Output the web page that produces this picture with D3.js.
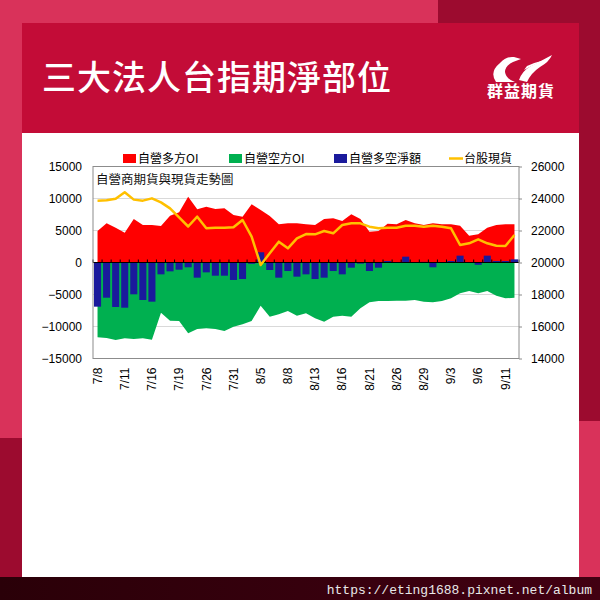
<!DOCTYPE html>
<html><head><meta charset="utf-8">
<script src="https://cdn.jsdelivr.net/npm/d3@7/dist/d3.min.js"></script>
<style>html,body{margin:0;padding:0;background:#fff;}svg{display:block;}</style>
</head><body>
<script>
const dates = ["7/8","7/9","7/10","7/11","7/12","7/15","7/16","7/17","7/18","7/19","7/22","7/23","7/26","7/29","7/30","7/31","8/1","8/2","8/5","8/6","8/7","8/8","8/9","8/12","8/13","8/14","8/15","8/16","8/19","8/20","8/21","8/22","8/23","8/26","8/27","8/28","8/29","8/30","9/2","9/3","9/4","9/5","9/6","9/9","9/10","9/11","9/12"];
const longOI = [4920,6120,5440,4660,6800,5860,5860,5700,7310,7840,10290,8330,8720,8360,8460,7420,7160,9090,8200,7270,5960,6120,6120,5960,5860,6800,6900,6480,7530,6800,4820,4920,6070,5960,6640,6120,5860,6120,5960,5960,5750,4190,4400,5440,5860,5960,5960];
const shortOI = [-11690,-11800,-12110,-11850,-11950,-11850,-12060,-7840,-9090,-9140,-11070,-10390,-10290,-10390,-10700,-10030,-9660,-9140,-6740,-8460,-8100,-7580,-8310,-7940,-8720,-9240,-8460,-8310,-8460,-7160,-6220,-6020,-6020,-5960,-5960,-5860,-6120,-6220,-6020,-5600,-4820,-4450,-4820,-4450,-5180,-5600,-5500];
const netOI = [-6900,-5500,-6950,-7060,-4970,-5860,-6120,-1850,-1380,-1120,-750,-2370,-1540,-2060,-2060,-2730,-2580,-200,1600,-1170,-2370,-1330,-2210,-1850,-2580,-2370,-1330,-1850,-810,-180,-1330,-810,230,50,910,80,100,-750,50,230,1070,50,-360,1070,230,230,490];
const taiex = [23865,23885,23990,24385,23930,23865,24010,23760,23385,22823,22250,22865,22135,22170,22170,22200,22656,21615,19844,20573,21302,20885,21510,21780,21760,21970,21823,22344,22448,22448,22240,22135,22170,22170,22302,22302,22240,22302,22240,22135,21094,21198,21448,21198,21052,21031,21719];
const xTickLabels = ["7/8","7/11","7/16","7/19","7/26","7/31","8/5","8/8","8/13","8/16","8/21","8/26","8/29","9/3","9/6","9/11"];
const leftTicks = [-15000,-10000,-5000,0,5000,10000,15000];
const rightTicks = [14000,16000,18000,20000,22000,24000,26000];
const seriesNames = ["自營多方OI","自營空方OI","自營多空淨額","台股現貨"];
const titleText = "三大法人台指期淨部位";
const chartTitle = "自營商期貨與現貨走勢圖";
const brandText = "群益期貨";
const urlText = "https://eting1688.pixnet.net/album";

const W = 600, H = 600;
const svg = d3.select("body").append("svg").attr("width", W).attr("height", H);
const CJK = "'Noto Sans CJK TC','Noto Sans CJK SC',sans-serif";
const NUM = "'Liberation Sans',Arial,sans-serif";

// background frame
svg.append("rect").attr("x",0).attr("y",0).attr("width",W).attr("height",H).attr("fill","#d9325a");
svg.append("rect").attr("x",438).attr("y",0).attr("width",162).attr("height",23).attr("fill","#9c0b2f");
svg.append("rect").attr("x",578).attr("y",0).attr("width",22).attr("height",421).attr("fill","#9c0b2f");
svg.append("rect").attr("x",0).attr("y",438).attr("width",22).attr("height",140).attr("fill","#9c0b2f");
svg.append("rect").attr("x",22).attr("y",23).attr("width",557).attr("height",111).attr("fill","#c30c37");
svg.append("rect").attr("x",22).attr("y",133).attr("width",557).attr("height",445).attr("fill","#ffffff");
const grad = svg.append("defs").append("linearGradient").attr("id","bb").attr("x1","0").attr("x2","1");
grad.append("stop").attr("offset","0").attr("stop-color","#2a0008");
grad.append("stop").attr("offset","1").attr("stop-color","#420012");
svg.append("rect").attr("x",0).attr("y",577).attr("width",W).attr("height",23).attr("fill","url(#bb)");
svg.append("text").attr("x",592).attr("y",594).attr("text-anchor","end")
  .attr("font-family","'Liberation Mono','DejaVu Sans Mono',monospace").attr("font-size",13)
  .attr("fill","#e8e8e8").text(urlText);

// header title
svg.append("text").attr("x",42).attr("y",90).attr("font-family",CJK).attr("font-size",34)
  .attr("font-weight",500).attr("letter-spacing",1).attr("fill","#fff").text(titleText);

// logo
const logo = svg.append("g").attr("fill","#fff");
logo.append("path").attr("d","M500,63 Q506,56 514,57 L521,59 L513,62 Q505,66 505,72 Q506,79 515,82 L496,82 Q489,72 500,63 Z");
logo.append("path").attr("d","M552,55 Q541,61 531,66 Q522,71 519,80 L527,82 Q531,73 540,67 Q549,62 552,55 Z");
logo.append("path").attr("d","M545,60 Q536,62 527,66 L524,70 Q533,65 545,60 Z");
svg.append("text").attr("x",521).attr("y",97).attr("text-anchor","middle").attr("font-family",CJK)
  .attr("font-size",16).attr("font-weight",700).attr("letter-spacing",1).attr("fill","#fff").text(brandText);

// chart
const plot = {left:93, right:519, top:166.5, bottom:358.5};
const x = d3.scaleBand().domain(dates).range([plot.left, plot.right]).padding(0);
const cx = d => x(d) + x.bandwidth()/2;
const yL = d3.scaleLinear().domain([-15000,15000]).range([plot.bottom, plot.top]);
const yR = d3.scaleLinear().domain([14000,26000]).range([plot.bottom, plot.top]);

const g = svg.append("g");
// gridlines
g.selectAll("line.grid").data(leftTicks.filter(v=>v!==0 && Math.abs(v)!==15000)).enter().append("line")
  .attr("x1",plot.left).attr("x2",plot.right).attr("y1",d=>yL(d)).attr("y2",d=>yL(d))
  .attr("stroke","#d9d9d9").attr("stroke-width",1);

// areas
const idx = d3.range(dates.length);
g.append("path").datum(idx).attr("fill","#ff0000")
  .attr("d", d3.area().x(i=>cx(dates[i])).y0(yL(0)).y1(i=>yL(longOI[i])));
g.append("path").datum(idx).attr("fill","#00b050")
  .attr("d", d3.area().x(i=>cx(dates[i])).y0(yL(0)).y1(i=>yL(shortOI[i])));

// bars
const bw = x.bandwidth()*0.78;
g.selectAll("rect.bar").data(idx).enter().append("rect")
  .attr("x", i=>cx(dates[i]) - bw/2).attr("width", bw)
  .attr("y", i=>Math.min(yL(0), yL(netOI[i])))
  .attr("height", i=>Math.abs(yL(netOI[i]) - yL(0)))
  .attr("fill","#1a1a9c");

// zero axis with ticks
g.append("line").attr("x1",plot.left).attr("x2",plot.right).attr("y1",yL(0)).attr("y2",yL(0))
  .attr("stroke","#000").attr("stroke-width",1);
g.selectAll("line.xt").data(d3.range(dates.length+1)).enter().append("line")
  .attr("x1",k=>plot.left + k*x.step()).attr("x2",k=>plot.left + k*x.step())
  .attr("y1",yL(0)-3).attr("y2",yL(0)).attr("stroke","#000").attr("stroke-width",1);

// line
g.append("path").datum(idx).attr("fill","none").attr("stroke","#ffc000").attr("stroke-width",2.5)
  .attr("stroke-linejoin","round")
  .attr("d", d3.line().x(i=>cx(dates[i])).y(i=>yR(taiex[i])));

// border
g.append("rect").attr("x",plot.left).attr("y",plot.top).attr("width",plot.right-plot.left)
  .attr("height",plot.bottom-plot.top).attr("fill","none").attr("stroke","#8c8c8c").attr("stroke-width",1);

// inner title
g.append("text").attr("x",96).attr("y",184).attr("font-family",CJK).attr("font-size",12.5)
  .attr("fill","#111").text(chartTitle);

// left axis
const la = svg.append("g").attr("transform",`translate(${plot.left},0)`)
  .call(d3.axisLeft(yL).tickValues(leftTicks).tickSize(0).tickPadding(11).tickFormat(d3.format("d")));
la.select(".domain").remove();
la.selectAll("text").attr("font-family",NUM).attr("font-size",12).attr("fill","#000");
// right axis
const ra = svg.append("g").attr("transform",`translate(${plot.right},0)`)
  .call(d3.axisRight(yR).tickValues(rightTicks).tickSize(3).tickPadding(9).tickFormat(d3.format("d")));
ra.select(".domain").remove();
ra.selectAll("line").attr("stroke","#8c8c8c");
ra.selectAll("text").attr("font-family",NUM).attr("font-size",12).attr("fill","#000");

// x labels
const xa = svg.append("g").attr("transform",`translate(0,${plot.bottom})`)
  .call(d3.axisBottom(x).tickValues(xTickLabels).tickSize(0).tickPadding(0));
xa.select(".domain").remove();
xa.selectAll("text").attr("font-family",NUM).attr("font-size",12).attr("fill","#000")
  .attr("text-anchor","end").attr("dy","0.35em")
  .attr("transform","translate(0,9) rotate(-90)").attr("x",0).attr("y",0);

// legend
const colors = ["#ff0000","#00b050","#1a1a9c","#ffc000"];
const legX = [123,229,334,449];
const leg = svg.append("g");
seriesNames.forEach((n,i)=>{
  if(i<3){
    leg.append("rect").attr("x",legX[i]).attr("y",154).attr("width",13).attr("height",9).attr("fill",colors[i]);
  } else {
    leg.append("line").attr("x1",legX[i]).attr("x2",legX[i]+14).attr("y1",158.5).attr("y2",158.5)
      .attr("stroke",colors[i]).attr("stroke-width",2.5);
  }
  leg.append("text").attr("x",legX[i]+15).attr("y",163).attr("font-family",CJK).attr("font-size",12)
    .attr("fill","#000").text(n);
});
</script>
</body></html>
